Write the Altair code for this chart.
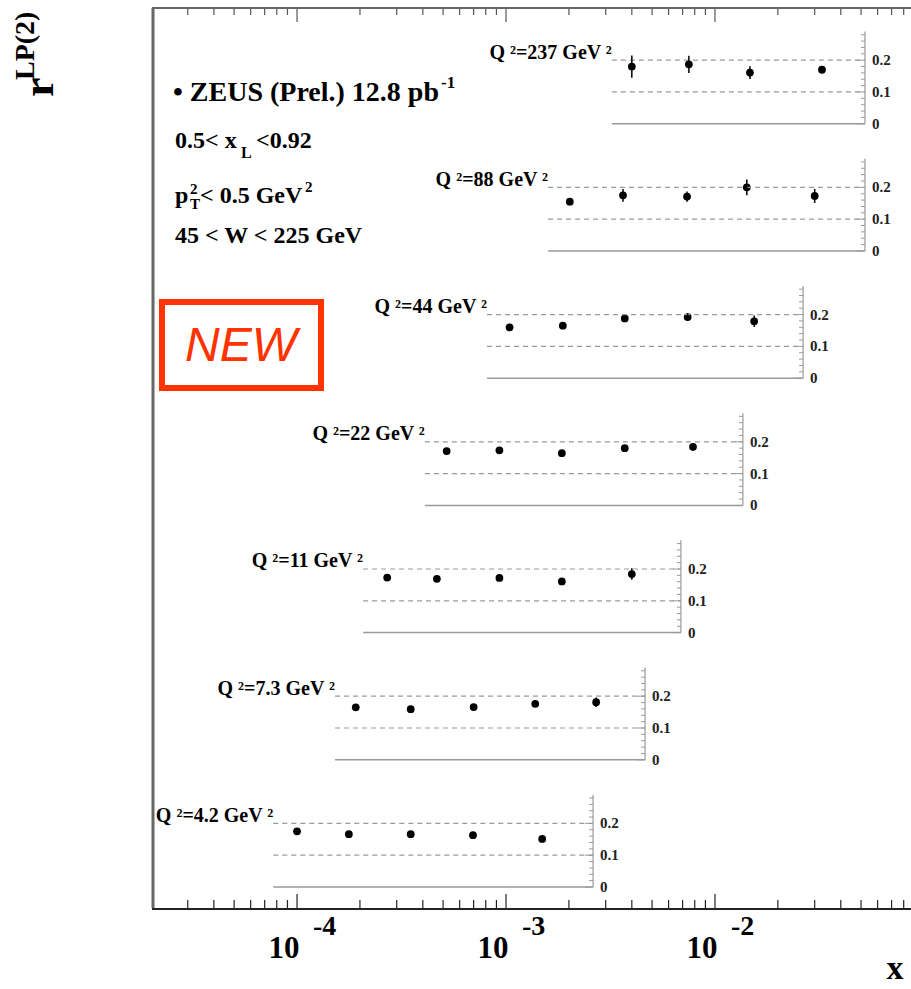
import altair as alt
import pandas as pd
import numpy as np

# ---------------- data ----------------
q2_labels = ["4.2", "7.3", "11", "22", "44", "88", "237"]
panel_xmin = [7.7e-5, 1.52e-4, 2.07e-4, 4.09e-4, 8.11e-4, 1.59e-3, 3.21e-3]
panel_xmax = [2.61e-3, 4.63e-3, 6.87e-3, 0.0136, 0.0264, 0.0522, 0.0522]

x_q4p2 = [1.0e-4, 1.77e-4, 3.5e-4, 6.95e-4, 1.49e-3]
r_q4p2 = [0.175, 0.166, 0.166, 0.163, 0.151]
e_q4p2 = [0.008, 0.006, 0.006, 0.006, 0.008]

x_q7p3 = [1.91e-4, 3.5e-4, 7.0e-4, 1.38e-3, 2.7e-3]
r_q7p3 = [0.165, 0.159, 0.166, 0.176, 0.181]
e_q7p3 = [0.006, 0.006, 0.007, 0.008, 0.015]

x_q11 = [2.7e-4, 4.67e-4, 9.3e-4, 1.85e-3, 4.0e-3]
r_q11 = [0.173, 0.169, 0.172, 0.161, 0.184]
e_q11 = [0.006, 0.006, 0.007, 0.006, 0.018]

x_q22 = [5.2e-4, 9.3e-4, 1.85e-3, 3.7e-3, 7.85e-3]
r_q22 = [0.171, 0.173, 0.164, 0.180, 0.184]
e_q22 = [0.007, 0.007, 0.007, 0.008, 0.012]

x_q44 = [1.04e-3, 1.87e-3, 3.7e-3, 7.4e-3, 0.0154]
r_q44 = [0.160, 0.165, 0.188, 0.192, 0.179]
e_q44 = [0.007, 0.008, 0.009, 0.010, 0.018]

x_q88 = [2.02e-3, 3.63e-3, 7.35e-3, 0.0142, 0.030]
r_q88 = [0.155, 0.175, 0.171, 0.200, 0.173]
e_q88 = [0.008, 0.020, 0.016, 0.025, 0.022]

x_q237 = [4.0e-3, 7.5e-3, 0.0147, 0.0325]
r_q237 = [0.180, 0.187, 0.161, 0.170]
e_q237 = [0.035, 0.027, 0.020, 0.012]

panel_tick_values = [0.0, 0.1, 0.2]
panel_tick_labels = ["0", "0.1", "0.2"]
main_major = [1e-4, 1e-3, 1e-2]
main_major_base = ["10", "10", "10"]
main_major_exp = ["-4", "-3", "-2"]

# ---------------- layout constants ----------------
PANEL_STEP = 0.4
PANEL_AXIS_TOP = 0.29
LABEL_R = 0.205
X_DOMAIN = [10 ** -4.694, 10 ** -1.062]
Y_DOMAIN = [-0.066, 2.764]
W, H = 759, 900
SERIF = "Liberation Serif"
PANEL_GREY = "#9a9a9a"

xs = alt.Scale(type="log", domain=X_DOMAIN, nice=False)
ys = alt.Scale(domain=Y_DOMAIN, nice=False, zero=False)

series = [
    (x_q4p2, r_q4p2, e_q4p2), (x_q7p3, r_q7p3, e_q7p3), (x_q11, r_q11, e_q11),
    (x_q22, r_q22, e_q22), (x_q44, r_q44, e_q44), (x_q88, r_q88, e_q88),
    (x_q237, r_q237, e_q237),
]

rows = []
for i, (xv, rv, ev) in enumerate(series):
    off = i * PANEL_STEP
    for xx, rr, ee in zip(xv, rv, ev):
        rows.append({"panel": q2_labels[i], "x": xx, "y": off + rr,
                     "lo": off + rr - ee, "hi": off + rr + ee})
pts = pd.DataFrame(rows)

panels = pd.DataFrame({
    "panel": q2_labels,
    "xl": panel_xmin,
    "xr": panel_xmax,
    "y0": [i * PANEL_STEP for i in range(len(q2_labels))],
    "ytop": [i * PANEL_STEP + PANEL_AXIS_TOP for i in range(len(q2_labels))],
    "ylab": [i * PANEL_STEP + LABEL_R for i in range(len(q2_labels))],
    "label": [f"Q \u00b2={q} GeV \u00b2" for q in q2_labels],
})

dash_rows, tlab_rows, major_rows, minor_rows = [], [], [], []
minor_levels = [round(v, 2) for v in np.arange(0.02, 0.285, 0.02)]
for i, q in enumerate(q2_labels):
    off = i * PANEL_STEP
    for lv in [0.1, 0.2]:
        dash_rows.append({"xl": panel_xmin[i], "xr": panel_xmax[i], "y": off + lv})
    for tv, tl in zip(panel_tick_values, panel_tick_labels):
        tlab_rows.append({"xr": panel_xmax[i], "y": off + tv, "t": tl})
        major_rows.append({"xr": panel_xmax[i], "y": off + tv})
    for mv in minor_levels:
        if mv not in (0.1, 0.2):
            minor_rows.append({"xr": panel_xmax[i], "y": off + mv})
dashes = pd.DataFrame(dash_rows)
tlabs = pd.DataFrame(tlab_rows)
pmajor = pd.DataFrame(major_rows)
pminor = pd.DataFrame(minor_rows)

minor_main = [m * 10.0 ** k for k in range(-5, -1) for m in range(2, 10)
              if X_DOMAIN[0] < m * 10.0 ** k < X_DOMAIN[1]]
main_major_df = pd.DataFrame({"v": main_major, "b": main_major_base, "e": main_major_exp})
main_minor_df = pd.DataFrame({"v": minor_main})

# ---------------- layers ----------------
points = alt.Chart(pts).mark_circle(size=60, color="black", opacity=1).encode(
    x=alt.X("x:Q", scale=xs, axis=None),
    y=alt.Y("y:Q", scale=ys, axis=None),
)
errbars = alt.Chart(pts).mark_rule(color="black", strokeWidth=1.5).encode(
    x=alt.X("x:Q", scale=xs, axis=None),
    y=alt.Y("lo:Q", scale=ys, axis=None),
    y2="hi:Q",
)
baselines = alt.Chart(panels).mark_rule(color=PANEL_GREY, strokeWidth=1.5).encode(
    x=alt.X("xl:Q", scale=xs, axis=None), x2="xr:Q",
    y=alt.Y("y0:Q", scale=ys, axis=None),
)
dashed = alt.Chart(dashes).mark_rule(color=PANEL_GREY, strokeWidth=1.2,
                                     strokeDash=[5, 4]).encode(
    x=alt.X("xl:Q", scale=xs, axis=None), x2="xr:Q",
    y=alt.Y("y:Q", scale=ys, axis=None),
)
paxis = alt.Chart(panels).mark_rule(color=PANEL_GREY, strokeWidth=1.2).encode(
    x=alt.X("xr:Q", scale=xs, axis=None),
    y=alt.Y("y0:Q", scale=ys, axis=None), y2="ytop:Q",
)
pmaj = alt.Chart(pmajor).mark_tick(orient="horizontal", size=8, thickness=1,
                                   xOffset=-4, color=PANEL_GREY, opacity=1).encode(
    x=alt.X("xr:Q", scale=xs, axis=None),
    y=alt.Y("y:Q", scale=ys, axis=None),
)
pmin = alt.Chart(pminor).mark_tick(orient="horizontal", size=4, thickness=1,
                                   xOffset=-2, color=PANEL_GREY, opacity=1).encode(
    x=alt.X("xr:Q", scale=xs, axis=None),
    y=alt.Y("y:Q", scale=ys, axis=None),
)
ptext = alt.Chart(tlabs).mark_text(font=SERIF, fontWeight="bold", fontSize=15,
                                   align="left", baseline="middle", dx=7,
                                   color="#222222").encode(
    x=alt.X("xr:Q", scale=xs, axis=None),
    y=alt.Y("y:Q", scale=ys, axis=None),
    text="t:N",
)
qlabels = alt.Chart(panels).mark_text(font=SERIF, fontWeight="bold", fontSize=20,
                                      align="right", baseline="alphabetic",
                                      color="black").encode(
    x=alt.X("xl:Q", scale=xs, axis=None),
    y=alt.Y("ylab:Q", scale=ys, axis=None),
    text="label:N",
)

# main frame: bottom axis line, inward ticks, labels
one = pd.DataFrame({"k": [0]})
bottom_line = alt.Chart(one).mark_rule(color="#222222", strokeWidth=2).encode(
    x=alt.value(0), x2=alt.value(W), y=alt.value(H + 1))
bot_major = alt.Chart(main_major_df).mark_rule(color="#222222", strokeWidth=1.2).encode(
    x=alt.X("v:Q", scale=xs, axis=None), y=alt.value(H), y2=alt.value(H - 14))
bot_minor = alt.Chart(main_minor_df).mark_rule(color="#222222", strokeWidth=1.2).encode(
    x=alt.X("v:Q", scale=xs, axis=None), y=alt.value(H), y2=alt.value(H - 8))
top_major = alt.Chart(main_major_df).mark_rule(color="#555555", strokeWidth=1.2).encode(
    x=alt.X("v:Q", scale=xs, axis=None), y=alt.value(0), y2=alt.value(14))
top_minor = alt.Chart(main_minor_df).mark_rule(color="#555555", strokeWidth=1.2).encode(
    x=alt.X("v:Q", scale=xs, axis=None), y=alt.value(0), y2=alt.value(7))
bases = alt.Chart(main_major_df).mark_text(font=SERIF, fontWeight="bold", fontSize=31,
                                           align="center", baseline="alphabetic", dx=-13,
                                           color="black").encode(
    x=alt.X("v:Q", scale=xs, axis=None), y=alt.value(950), text="b:N")
exps = alt.Chart(main_major_df).mark_text(font=SERIF, fontWeight="bold", fontSize=28,
                                          align="left", baseline="alphabetic", dx=16,
                                          color="black").encode(
    x=alt.X("v:Q", scale=xs, axis=None), y=alt.value(927), text="e:N")

left_line = alt.Chart(one).mark_rule(color="#666666", strokeWidth=3).encode(
    x=alt.value(1), y=alt.value(0), y2=alt.value(H))
top_line = alt.Chart(one).mark_rule(color="#666666", strokeWidth=2).encode(
    x=alt.value(0), x2=alt.value(W), y=alt.value(0))


def label(text, x, y, size, angle=0, **kw):
    params = dict(font=SERIF, fontWeight="bold", fontSize=size, align="left",
                  baseline="alphabetic", color="black", angle=angle)
    params.update(kw)
    return alt.Chart(pd.DataFrame({"t": [text]})).mark_text(**params).encode(
        x=alt.value(x), y=alt.value(y), text="t:N")


annots = [
    label("x", 743, 971, 34, align="center"),
    label("r", -99, 89, 44, angle=270),
    label("LP(2)", -118, 72, 28, angle=270),
    label("\u2022 ZEUS (Prel.) 12.8 pb", 21, 93, 28),
    label("-1", 289, 80, 17),
    label("0.5< x", 23, 140, 24),
    label("L", 89, 150, 16),
    label("<0.92", 104, 140, 24),
    label("p", 23, 195, 24),
    label("2", 38, 186, 15),
    label("T", 38, 201, 15),
    label("< 0.5 GeV", 48, 195, 24),
    label("2", 153, 184, 15),
    label("45 < W < 225 GeV", 23, 235, 24),
    label("NEW", 89, 353, 48, font="Liberation Sans", fontWeight="normal",
          fontStyle="italic", align="center", color="#FF3300"),
]

new_box = alt.Chart(one).mark_rect(fill="white", fillOpacity=0, stroke="#FF3300",
                                   strokeWidth=6).encode(
    x=alt.value(10), x2=alt.value(169), y=alt.value(294), y2=alt.value(380))

chart = alt.layer(
    points, baselines, dashed, paxis, pmaj, pmin, ptext, qlabels, errbars,
    bottom_line, bot_major, bot_minor, top_major, top_minor, bases, exps,
    left_line, top_line, new_box, *annots,
).properties(
    width=W, height=H,
    padding={"left": 152, "top": 8, "right": 0, "bottom": 81},
    autosize=alt.AutoSizeParams(type="none"),
    background="white",
).configure_view(stroke=None)

chart.save("out.html", embed_options={"renderer": "svg", "actions": False})
